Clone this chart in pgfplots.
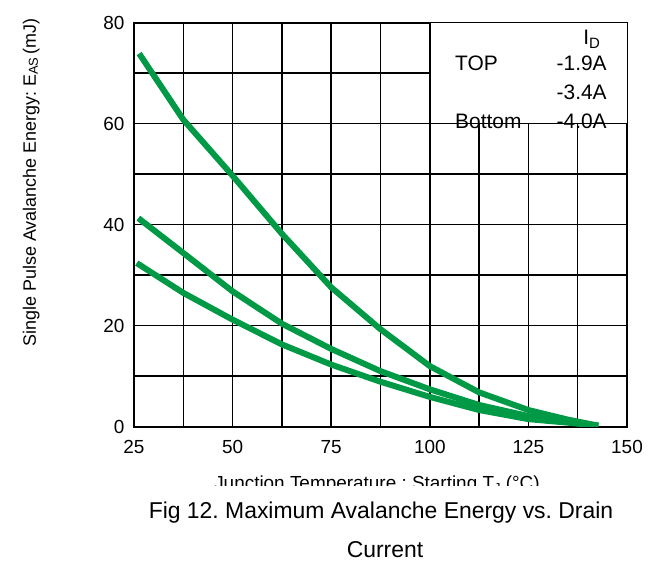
\documentclass[border=0pt]{standalone}
\usepackage{pgfplots}
\pgfplotsset{compat=1.18}
\usepackage{fontspec}
\setmainfont{Liberation Sans}
\frenchspacing
\definecolor{cgreen}{RGB}{0,154,70}
\pgfplotsset{
  layers/mylayers/.define layer set={axis background,axis grid,pre main,main,axis ticks,axis lines,axis tick labels,axis descriptions,axis foreground}{},
}
\pgfplotstableread{
x y
26.3 73.9
37.5 60.8
50 49.7
62.5 38.2
75 27.6
87.5 19.3
100 12.0
112.5 6.8
125 3.3
135 1.4
142.7 0.2
}\topcurve
\pgfplotstableread{
x y
26.1 41.3
37.5 34.4
50 26.8
62.5 20.4
75 15.4
87.5 11.0
100 7.4
112.5 4.3
125 2.1
135 1.0
142.7 0.2
}\midcurve
\pgfplotstableread{
x y
25.7 32.4
37.5 26.5
50 21.2
62.5 16.3
75 12.3
87.5 8.9
100 5.9
112.5 3.3
125 1.5
135 0.8
142.7 0.2
}\botcurve
\begin{document}
\begin{tikzpicture}
\begin{axis}[
  set layers=mylayers,
  at={(0,0)}, anchor=south west,
  scale only axis, width=493bp, height=404bp,
  xmin=25, xmax=150, ymin=0, ymax=80,
  xtick={25,50,...,150}, ytick={0,20,...,80},
  minor xtick={37.5,62.5,87.5,112.5,137.5}, minor ytick={10,30,50,70},
  grid=both,
  major grid style={black, line width=1.5bp},
  minor grid style={black, line width=1.5bp},
  tick align=inside,
  major tick length=5bp, minor tick length=5bp,
  every tick/.style={black, line width=1.5bp},
  axis line style={line width=1.8bp},
  tick label style={font=\fontsize{19}{22}\selectfont},
  /pgf/number format/assume math mode=true,
  xticklabel style={yshift=-10bp},
  yticklabel style={xshift=-6bp},
]
\fill[white] (axis cs:100,60) rectangle (axis cs:150,80);
\addplot[cgreen, line width=6bp, line join=round] table {\topcurve};
\addplot[cgreen, line width=6bp, line join=round] table {\midcurve};
\addplot[cgreen, line width=6bp, line join=round] table {\botcurve};
\begin{scope}[every node/.style={font=\fontsize{21}{24}\selectfont, inner sep=0pt}]
\node[anchor=base east] at (axis cs:143.2,75.6) {I\raisebox{-0.15em}{\fontsize{15}{17}\selectfont D}};
\node[anchor=base west] at (axis cs:106.4,70.6) {TOP};
\node[anchor=base east] at (axis cs:144.9,70.6) {-1.9A};
\node[anchor=base east] at (axis cs:144.9,64.7) {-3.4A};
\node[anchor=base west] at (axis cs:106.4,59.1) {Bottom};
\node[anchor=base east] at (axis cs:144.9,59.1) {-4.0A};
\end{scope}
\draw[black, line width=1.5bp] (axis cs:100,80) -- (axis cs:100,60) -- (axis cs:150,60);
\end{axis}
\node[rotate=90, anchor=base, font=\fontsize{18}{21}\selectfont, inner sep=0pt] at (-98bp,244.2bp)
  {Single Pulse Avalanche Energy: E\raisebox{-0.1em}{\fontsize{13}{15}\selectfont AS}\,(mJ)};
\node[anchor=base, font=\fontsize{19}{22}\selectfont, inner sep=0pt] at (243bp,-62.9bp)
  {Junction Temperature : Starting T\raisebox{-0.15em}{\fontsize{13}{15}\selectfont J} (°C)};
\fill[white] (60bp,-59.3bp) rectangle (460bp,-75bp);
\node[anchor=base, font=\fontsize{23}{26}\selectfont, inner sep=0pt] at (247bp,-91.6bp)
  {Fig 12. Maximum Avalanche Energy vs. Drain};
\node[anchor=base, font=\fontsize{23}{26}\selectfont, inner sep=0pt] at (251bp,-131bp)
  {Current};
\pgfresetboundingbox
\path[use as bounding box] (-134bp,-137.3bp) rectangle (520bp,426.7bp);
\end{tikzpicture}
\end{document}
